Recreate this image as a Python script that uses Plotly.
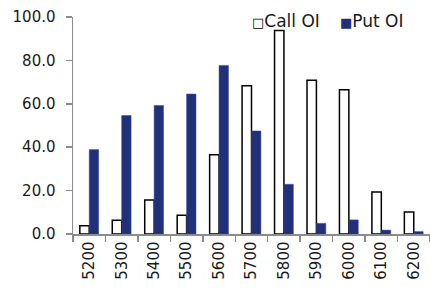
import plotly.graph_objects as go

strikes = ["5200", "5300", "5400", "5500", "5600", "5700", "5800", "5900", "6000", "6100", "6200"]
call_oi = [3.8, 6.3, 15.7, 8.6, 36.5, 68.3, 93.8, 70.8, 66.5, 19.4, 10.1]
put_oi = [38.9, 54.6, 59.2, 64.5, 77.7, 47.5, 22.9, 4.9, 6.5, 1.8, 1.1]
y_ticks = [0, 20, 40, 60, 80, 100]
series_names = ["Call OI", "Put OI"]

font_family = "DejaVu Sans"
axis_color = "#8c8c8c"
put_color = "#22307a"

W, H = 430, 306
L, R, T, B = 73, 0, 17, 72
pw, ph = W - L - R, H - T - B

fig = go.Figure()
fig.add_trace(go.Bar(
    x=strikes, y=call_oi, name=series_names[0],
    marker=dict(color="white", line=dict(color="black", width=1.5)),
))
fig.add_trace(go.Bar(
    x=strikes, y=put_oi, name=series_names[1],
    marker=dict(color=put_color, line=dict(color="#3a4a9a", width=0.5)),
))

def px_x(x):
    return (x - L) / pw

def px_y(y):
    return 1 - (y - T) / ph

legend_y = px_y(21)
fig.add_annotation(
    x=px_x(250), y=legend_y, xref="paper", yref="paper", xanchor="left", yanchor="middle",
    showarrow=False, font=dict(size=17, color="#1a1a1a", family=font_family),
    text='<span style="color:black;font-size:13px">□</span>' + series_names[0],
)
fig.add_annotation(
    x=px_x(338), y=legend_y, xref="paper", yref="paper", xanchor="left", yanchor="middle",
    showarrow=False, font=dict(size=17, color="#1a1a1a", family=font_family),
    text=f'<span style="color:{put_color};font-size:13px">■</span>' + series_names[1],
)

fig.update_layout(
    width=W, height=H,
    margin=dict(l=L, r=R, t=T, b=B, autoexpand=False),
    paper_bgcolor="white", plot_bgcolor="white",
    barmode="group", bargap=0.42, bargroupgap=0,
    font=dict(family=font_family, size=15, color="#1a1a1a"),
    showlegend=False,
)
fig.update_xaxes(
    type="category", showgrid=False, showline=True, linecolor=axis_color, linewidth=1.5,
    ticks="outside", ticklen=6, tickcolor=axis_color, tickwidth=1.5,
    tickson="boundaries", tickangle=-90, tickfont=dict(size=15),
    range=[-0.5, 10.5], automargin=False,
)
fig.update_yaxes(
    range=[0, 100], tickvals=y_ticks, tickformat=".1f", showgrid=False, zeroline=False,
    showline=True, linecolor=axis_color, linewidth=1.5,
    ticks="outside", ticklen=6, tickcolor=axis_color, tickwidth=1.5,
    tickfont=dict(size=15), ticklabelstandoff=7, automargin=False,
)

fig.write_html(
    "out.html",
    config={"displayModeBar": False, "staticPlot": True},
    post_script="document.body.style.margin='0';document.body.style.overflow='hidden';",
)
